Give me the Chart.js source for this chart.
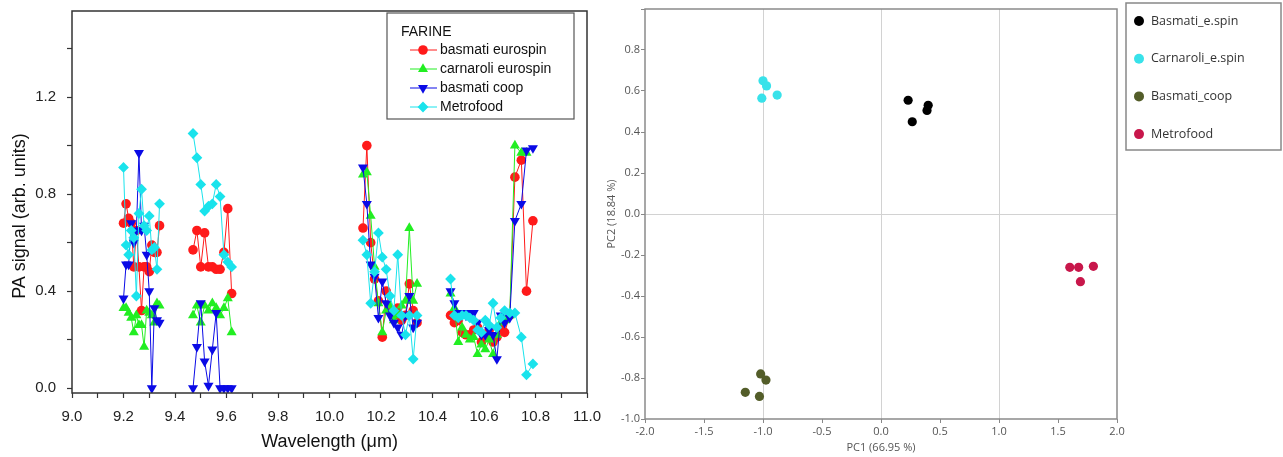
<!DOCTYPE html>
<html>
<head>
<meta charset="utf-8">
<script src="https://cdn.jsdelivr.net/npm/chart.js@4.4.1/dist/chart.umd.min.js"></script>
<style>
    html, body { margin: 0; padding: 0; background: #fff; }
    #box-spettri { position: absolute; left: 0; top: 0; width: 620px; height: 457px; }
    #box-pca     { position: absolute; left: 600px; top: 0; width: 683px; height: 457px; }
</style>
</head>
<body>
<div id="box-spettri"><canvas id="grafico-spettri"></canvas></div>
<div id="box-pca"><canvas id="grafico-pca"></canvas></div>
<script>
// ===== DATI — spettri PA (4 finestre di lunghezza d'onda, µm) =====
const lambdaA = [9.20, 9.21, 9.22, 9.23, 9.24, 9.25, 9.26, 9.27, 9.28, 9.29, 9.30, 9.31, 9.32, 9.33, 9.34];
const lambdaB = [9.47, 9.485, 9.50, 9.515, 9.53, 9.545, 9.56, 9.575, 9.59, 9.605, 9.62];
const lambdaC = [10.13, 10.145, 10.16, 10.175, 10.19, 10.205, 10.22, 10.235, 10.25, 10.265, 10.28, 10.295, 10.31, 10.325, 10.34];
const lambdaD = [10.47, 10.485, 10.50, 10.515, 10.53, 10.545, 10.56, 10.575, 10.59, 10.605, 10.62, 10.635, 10.65, 10.665, 10.68, 10.70, 10.72, 10.745, 10.765, 10.79];
const FINESTRE = [lambdaA, lambdaB, lambdaC, lambdaD];

const basmatiEurospin = [
    [0.68, 0.76, 0.70, 0.68, 0.50, 0.65, 0.50, 0.32, 0.50, 0.50, 0.48, 0.59, 0.56, 0.56, 0.67],
    [0.57, 0.65, 0.50, 0.64, 0.50, 0.50, 0.49, 0.49, 0.56, 0.74, 0.39],
    [0.66, 1.00, 0.60, 0.45, 0.36, 0.21, 0.40, 0.32, 0.30, 0.33, 0.28, 0.30, 0.43, 0.32, 0.27],
    [0.30, 0.27, 0.28, 0.23, 0.22, 0.22, 0.24, 0.25, 0.19, 0.21, 0.24, 0.19, 0.21, 0.25, 0.23, 0.30, 0.87, 0.94, 0.40, 0.69]
];
const carnaroliEurospin = [
    [0.33, 0.33, 0.31, 0.29, 0.23, 0.30, 0.26, 0.26, 0.17, 0.32, 0.31, 0.30, 0.27, 0.35, 0.34],
    [0.30, 0.34, 0.27, 0.34, 0.32, 0.35, 0.33, 0.30, 0.33, 0.37, 0.23],
    [0.88, 0.89, 0.71, 0.50, 0.35, 0.23, 0.32, 0.34, 0.28, 0.30, 0.34, 0.36, 0.66, 0.36, 0.43],
    [0.39, 0.33, 0.19, 0.25, 0.22, 0.20, 0.21, 0.14, 0.18, 0.16, 0.20, 0.14, 0.22, 0.27, 0.28, 0.30, 1.00, 0.97, 0.97, null]
];
const basmatiCoop = [
    [0.37, 0.51, 0.51, 0.68, 0.60, 0.65, 0.97, 0.65, 0.67, 0.55, 0.40, 0.00, 0.33, 0.28, 0.27],
    [0.00, 0.17, 0.35, 0.11, 0.01, 0.16, 0.31, 0.00, 0.00, 0.00, 0.00],
    [0.91, 0.76, 0.51, 0.46, 0.29, 0.44, 0.35, 0.30, 0.27, 0.25, 0.22, 0.30, 0.38, 0.25, 0.27],
    [0.40, 0.35, 0.31, 0.31, 0.30, 0.31, 0.31, 0.27, 0.22, 0.22, 0.24, 0.22, 0.12, 0.30, 0.27, 0.29, 0.69, 0.76, 0.98, 0.99]
];
const metrofood = [
    [0.91, 0.59, 0.55, 0.65, 0.62, 0.38, 0.72, 0.82, 0.67, 0.65, 0.71, 0.57, 0.58, 0.49, 0.76],
    [1.05, 0.95, 0.84, 0.73, 0.75, 0.76, 0.84, 0.79, 0.55, 0.52, 0.50],
    [0.61, 0.55, 0.35, 0.48, 0.64, 0.54, 0.49, 0.38, 0.32, 0.55, 0.30, 0.22, 0.30, 0.12, 0.30],
    [0.45, 0.30, 0.29, 0.30, 0.30, 0.29, 0.28, 0.24, 0.23, 0.28, 0.26, 0.35, 0.25, 0.29, 0.32, 0.31, 0.31, 0.21, 0.055, 0.10]
];

const tickLambda = [9.0, 9.1, 9.2, 9.3, 9.4, 9.5, 9.6, 9.7, 9.8, 9.9, 10.0, 10.1, 10.2, 10.3, 10.4, 10.5, 10.6, 10.7, 10.8, 10.9, 11.0];
const tickSegnale = [0.0, 0.2, 0.4, 0.6, 0.8, 1.0, 1.2, 1.4];

// ===== DATI — PCA =====
const pcaEtichette = ['Basmati_e.spin', 'Carnaroli_e.spin', 'Basmati_coop', 'Metrofood'];
const pcaColori    = ['#000000', '#38e2ea', '#535d29', '#c8174b'];
const pc1 = [
    [0.23, 0.40, 0.39, 0.265],
    [-1.00, -0.97, -1.01, -0.88],
    [-1.02, -0.975, -1.15, -1.03],
    [1.60, 1.675, 1.80, 1.69]
];
const pc2 = [
    [0.555, 0.53, 0.505, 0.45],
    [0.65, 0.625, 0.565, 0.58],
    [-0.78, -0.81, -0.87, -0.89],
    [-0.26, -0.26, -0.255, -0.33]
];
const tickPC1 = [-2.0, -1.5, -1.0, -0.5, 0.0, 0.5, 1.0, 1.5, 2.0];
const tickPC2 = [-1.0, -0.8, -0.6, -0.4, -0.2, 0.0, 0.2, 0.4, 0.6, 0.8, 1.0];

// ===== HELPERS =====
const FONTE_ARIAL = "'Liberation Sans', Arial, sans-serif";
const FONTE_PCA   = "'Open Sans', 'Noto Sans', sans-serif";

// unisce le finestre in una sola serie, con un punto nullo fra una finestra e l'altra
function montaSerie(valori) {
    const punti = [];
    FINESTRE.forEach((xs, j) => {
        if (j > 0) punti.push({ x: xs[0] - 0.05, y: null });
        xs.forEach((x, i) => punti.push({ x, y: valori[j][i] }));
    });
    return punti;
}

// l'area del grafico la decide solo layout.padding, non le etichette che sporgono
function senzaSporgenze(s) {
    s.paddingLeft = 0; s.paddingRight = 0;
    s.paddingTop = 0;  s.paddingBottom = 0;
}

// cornice su tutti e quattro i lati dell'area del grafico
const cornice = {
    id: 'cornice',
    afterDraw(chart, args, opts) {
        const { ctx, chartArea: a } = chart;
        ctx.save();
        ctx.strokeStyle = opts.color;
        ctx.lineWidth = opts.width;
        ctx.strokeRect(a.left, a.top, a.right - a.left, a.bottom - a.top);
        ctx.restore();
    }
};

// ===== GRAFICO 1 — spettri =====
const SERIE = [
    { label: 'basmati eurospin',   dati: basmatiEurospin,   colore: '#ff1a1a', stile: 'circle',   raggio: 4.8, rot: 0 },
    { label: 'carnaroli eurospin', dati: carnaroliEurospin, colore: '#22ee22', stile: 'triangle', raggio: 5.8, rot: 0 },
    { label: 'basmati coop',       dati: basmatiCoop,       colore: '#0a0ae6', stile: 'triangle', raggio: 5.8, rot: 180 },
    { label: 'Metrofood',          dati: metrofood,         colore: '#19e3ec', stile: 'rectRot',  raggio: 5.4, rot: 0 }
];

const legendaFarine = {
    id: 'legendaFarine',
    afterDraw(chart) {
        const { ctx, chartArea } = chart;
        const x0 = chartArea.right - 200, y0 = chartArea.top + 2, w = 187, h = 106;
        ctx.save();
        ctx.fillStyle = '#fff';
        ctx.fillRect(x0, y0, w, h);
        ctx.strokeStyle = '#555';
        ctx.lineWidth = 1.2;
        ctx.strokeRect(x0, y0, w, h);
        ctx.font = '14px ' + FONTE_ARIAL;
        ctx.textBaseline = 'middle';
        ctx.fillStyle = '#111';
        ctx.fillText('FARINE', x0 + 14, y0 + 19);
        SERIE.forEach((s, i) => {
            const y = y0 + 37 + i * 19;
            ctx.strokeStyle = s.colore;
            ctx.lineWidth = 1;
            ctx.beginPath();
            ctx.moveTo(x0 + 23, y);
            ctx.lineTo(x0 + 50, y);
            ctx.stroke();
            ctx.fillStyle = s.colore;
            Chart.helpers.drawPoint(ctx, { pointStyle: s.stile, radius: s.raggio, rotation: s.rot, borderWidth: 0 }, x0 + 36, y);
            ctx.fillStyle = '#111';
            ctx.fillText(s.label, x0 + 53, y);
        });
        ctx.restore();
    }
};

// titolo dell'asse y scritto a mano, un po' sotto il centro dell'area
const titoloSegnale = {
    id: 'titoloSegnale',
    afterDraw(chart) {
        const { ctx, chartArea: a } = chart;
        ctx.save();
        ctx.translate(20, (a.top + a.bottom) / 2 + 14);
        ctx.rotate(-Math.PI / 2);
        ctx.font = '18px ' + FONTE_ARIAL;
        ctx.fillStyle = '#111';
        ctx.textAlign = 'center';
        ctx.textBaseline = 'middle';
        ctx.fillText('PA signal (arb. units)', 0, 0);
        ctx.restore();
    }
};

new Chart(document.getElementById('grafico-spettri'), {
    type: 'line',
    data: {
        datasets: SERIE.map((s, i) => ({
            label:            s.label,
            data:             montaSerie(s.dati),
            borderColor:      s.colore,
            backgroundColor:  s.colore,
            borderWidth:      1,
            pointStyle:       s.stile,
            pointRadius:      s.raggio,
            pointRotation:    s.rot,
            pointBorderWidth: 0,
            spanGaps:         false,
            tension:          0,
            order:            SERIE.length - i
        }))
    },
    options: {
        responsive: true,
        maintainAspectRatio: false,
        animation: false,
        layout: { padding: { top: 11, right: 33, left: 0, bottom: 0 } },
        plugins: {
            legend: { display: false },
            tooltip: { enabled: false },
            cornice: { color: '#333', width: 1.5 }
        },
        scales: {
            x: {
                type: 'linear',
                min: 9.0,
                max: 11.0,
                afterBuildTicks: s => { s.ticks = tickLambda.map(v => ({ value: v })); },
                afterFit: s => { s.height = 64; senzaSporgenze(s); },
                ticks: {
                    autoSkip: false,
                    maxRotation: 0,
                    padding: 10,
                    color: '#222',
                    font: { family: FONTE_ARIAL, size: 15 },
                    callback: (v, i) => i % 2 === 0 ? v.toFixed(1) : ''
                },
                grid: { drawOnChartArea: false, tickLength: 5, tickColor: '#333', tickWidth: 1.2 },
                border: { display: false },
                title: {
                    display: true,
                    text: 'Wavelength (μm)',
                    color: '#111',
                    font: { family: FONTE_ARIAL, size: 18 },
                    padding: { top: 0, bottom: 4 }
                }
            },
            y: {
                min: -0.02,
                max: 1.555,
                afterBuildTicks: s => { s.ticks = tickSegnale.map(v => ({ value: v })); },
                afterFit: s => { s.width = 72; senzaSporgenze(s); },
                ticks: {
                    padding: 11,
                    color: '#222',
                    font: { family: FONTE_ARIAL, size: 15 },
                    callback: (v, i) => i % 2 === 0 ? v.toFixed(1) : ''
                },
                grid: { drawOnChartArea: false, tickLength: 5, tickColor: '#333', tickWidth: 1.2 },
                border: { display: false }
            }
        }
    },
    plugins: [cornice, legendaFarine, titoloSegnale]
});

// ===== GRAFICO 2 — PCA =====
const legendaPCA = {
    id: 'legendaPCA',
    afterDraw(chart) {
        const { ctx } = chart;
        const x0 = 526, y0 = 3, w = 155, h = 147;
        ctx.save();
        ctx.strokeStyle = '#888';
        ctx.lineWidth = 1.5;
        ctx.strokeRect(x0, y0, w, h);
        ctx.font = '12.5px ' + FONTE_PCA;
        ctx.textBaseline = 'middle';
        pcaEtichette.forEach((nome, i) => {
            const y = 21 + i * 37.7;
            ctx.fillStyle = pcaColori[i];
            Chart.helpers.drawPoint(ctx, { pointStyle: 'circle', radius: 5, borderWidth: 0 }, x0 + 13, y);
            ctx.fillStyle = '#333';
            ctx.fillText(nome, x0 + 25, y);
        });
        ctx.restore();
    }
};

new Chart(document.getElementById('grafico-pca'), {
    type: 'scatter',
    data: {
        datasets: pcaEtichette.map((nome, k) => ({
            label:           nome,
            data:            pc1[k].map((x, i) => ({ x, y: pc2[k][i] })),
            backgroundColor: pcaColori[k],
            pointRadius:     4.6,
            pointBorderWidth: 0
        }))
    },
    options: {
        responsive: true,
        maintainAspectRatio: false,
        animation: false,
        layout: { padding: { top: 9, right: 166, left: 0, bottom: 0 } },
        plugins: {
            legend: { display: false },
            tooltip: { enabled: false },
            cornice: { color: '#8a8a8a', width: 1.5 }
        },
        scales: {
            x: {
                min: -2,
                max: 2,
                afterBuildTicks: s => { s.ticks = tickPC1.map(v => ({ value: v })); },
                afterFit: s => { s.height = 38; senzaSporgenze(s); },
                ticks: {
                    autoSkip: false,
                    maxRotation: 0,
                    padding: 2,
                    color: '#555',
                    font: { family: FONTE_PCA, size: 11 },
                    callback: v => v.toFixed(1)
                },
                grid: {
                    color: c => [-1, 0, 1].includes(c.tick && c.tick.value) ? '#d2d2d2' : 'rgba(0,0,0,0)',
                    lineWidth: 1,
                    tickLength: 4,
                    tickColor: '#888'
                },
                border: { display: false },
                title: {
                    display: true,
                    text: 'PC1 (66.95 %)',
                    color: '#555',
                    font: { family: FONTE_PCA, size: 11 },
                    padding: { top: 0, bottom: 3 }
                }
            },
            y: {
                min: -1,
                max: 1,
                afterBuildTicks: s => { s.ticks = tickPC2.map(v => ({ value: v })); },
                afterFit: s => { s.width = 45; senzaSporgenze(s); },
                ticks: {
                    padding: 1,
                    color: '#555',
                    font: { family: FONTE_PCA, size: 11 },
                    callback: v => v >= 0.99 ? '' : v.toFixed(1)
                },
                grid: {
                    color: c => c.tick && Math.abs(c.tick.value) < 1e-9 ? '#d2d2d2' : 'rgba(0,0,0,0)',
                    lineWidth: 1,
                    tickLength: 4,
                    tickColor: '#888'
                },
                border: { display: false },
                title: {
                    display: true,
                    text: 'PC2 (18.84 %)',
                    color: '#555',
                    font: { family: FONTE_PCA, size: 11 },
                    padding: { top: 5, bottom: 0 }
                }
            }
        }
    },
    plugins: [cornice, legendaPCA]
});
</script>
</body>
</html>
